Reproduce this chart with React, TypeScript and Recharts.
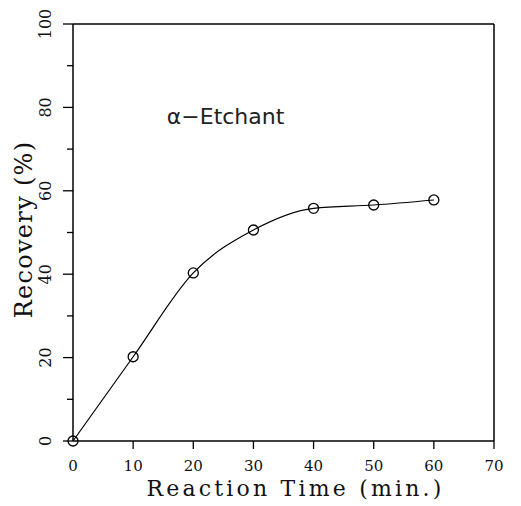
import React from "react";
import { LineChart, Line, XAxis, YAxis, ReferenceLine, ReferenceDot } from "recharts";

const times = [0, 10, 20, 30, 40, 50, 60];
const recovery = [0, 20.2, 40.3, 50.6, 55.8, 56.6, 57.8];
const xTicks = [0, 10, 20, 30, 40, 50, 60, 70];
const yTicks = [0, 10, 20, 30, 40, 50, 60, 70, 80, 90, 100];
const yLabelTicks = [0, 20, 40, 60, 80, 100];
const xTitle = "Reaction Time (min.)";
const yTitle = "Recovery (%)";
const annotation = "\u03b1\u2212Etchant";

const data = times.map((t, i) => ({ t, r: recovery[i] }));

const SERIF = "'DejaVu Serif', 'Liberation Serif', serif";

const XTick = (props: any) => {
  const { x, y, payload } = props;
  return (
    <g>
      {payload.value !== 0 && <line x1={x} y1={y} x2={x} y2={y + 8} stroke="#000" strokeWidth={1.3} />}
      <text x={x} y={y + 30} textAnchor="middle" fontFamily={SERIF} fontSize={15} fill="#111">
        {payload.value}
      </text>
    </g>
  );
};

const YTick = (props: any) => {
  const { x, y, payload } = props;
  const major = yLabelTicks.includes(payload.value);
  const len = major ? 10 : 6;
  const lx = x - 22;
  return (
    <g>
      <line x1={x - len} y1={y} x2={x} y2={y} stroke="#000" strokeWidth={1.3} />
      {major && (
        <text
          x={lx}
          y={y}
          transform={`rotate(-90, ${lx}, ${y})`}
          textAnchor="middle"
          fontFamily={SERIF}
          fontSize={16}
          fill="#111"
        >
          {payload.value}
        </text>
      )}
    </g>
  );
};

export default function App() {
  return (
    <div style={{ position: "absolute", left: 0, top: 0, background: "#fff" }}>
      <LineChart width={521} height={506} data={data} margin={{ top: 24, right: 27, left: 0, bottom: 0 }}>
        <XAxis
          dataKey="t"
          type="number"
          domain={[0, 70]}
          ticks={xTicks}
          tickSize={0}
          tickMargin={0}
          height={65}
          tick={<XTick />}
          tickLine={false}
          axisLine={{ stroke: "#000", strokeWidth: 1.5 }}
          label={{
            content: (p: any) => {
              const vb = p.viewBox;
              return (
                <text
                  x={vb.x + vb.width / 2 + 12}
                  y={496}
                  textAnchor="middle"
                  fontFamily={SERIF}
                  fontSize={22}
                  letterSpacing={3.2}
                  fill="#111"
                >
                  {xTitle}
                </text>
              );
            },
          }}
        />
        <YAxis
          type="number"
          domain={[0, 100]}
          ticks={yTicks}
          width={73}
          tickSize={0}
          tickMargin={0}
          tick={<YTick />}
          tickLine={false}
          axisLine={{ stroke: "#000", strokeWidth: 1.5 }}
          label={{
            content: (p: any) => {
              const vb = p.viewBox;
              const cx = 32;
              const cy = vb.y + vb.height / 2 - 3;
              return (
                <text
                  x={cx}
                  y={cy}
                  transform={`rotate(-90, ${cx}, ${cy})`}
                  textAnchor="middle"
                  fontFamily={SERIF}
                  fontSize={24}
                  letterSpacing={1.3}
                  fill="#111"
                >
                  {yTitle}
                </text>
              );
            },
          }}
        />
        <ReferenceLine y={100} stroke="#000" strokeWidth={1.5} />
        <ReferenceLine x={70} stroke="#000" strokeWidth={1.5} />
        <ReferenceDot
          x={15.6}
          y={77.8}
          r={0}
          fill="none"
          stroke="none"
          label={{
            value: annotation,
            position: "right",
            offset: 0,
            fontFamily: "'DejaVu Sans', sans-serif",
            fontSize: 22,
            fill: "#222",
          }}
        />
        <Line
          type="monotone"
          dataKey="r"
          stroke="#000"
          strokeWidth={1.2}
          isAnimationActive={false}
          dot={{ r: 5, fill: "none", stroke: "#000", strokeWidth: 1.3 }}
        />
      </LineChart>
    </div>
  );
}
